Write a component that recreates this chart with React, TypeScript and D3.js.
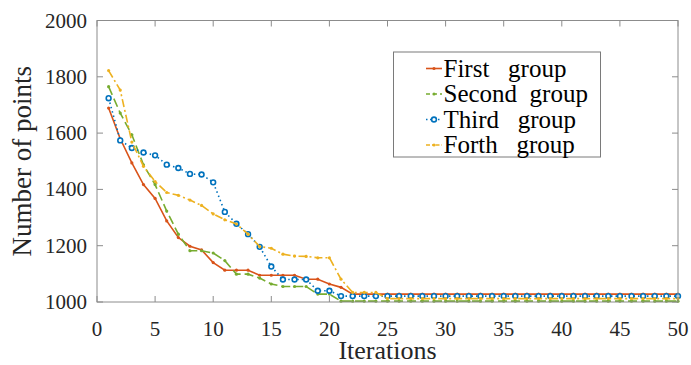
import React from "react";
import * as d3 from "d3";

const iterations = d3.range(1, 51);
const xTicks = [0, 5, 10, 15, 20, 25, 30, 35, 40, 45, 50];
const yTicks = [1000, 1200, 1400, 1600, 1800, 2000];

const firstGroup = [
  1689, 1580, 1494, 1417, 1368, 1288, 1229, 1198, 1185, 1140,
  1113, 1113, 1113, 1095, 1095, 1095, 1095, 1081, 1081, 1064,
  1052, 1028, 1028, 1028, 1028, 1028, 1028, 1028, 1028, 1028,
  1028, 1028, 1028, 1028, 1028, 1028, 1028, 1028, 1028, 1028,
  1028, 1028, 1028, 1028, 1028, 1028, 1028, 1028, 1028, 1028,
];
const secondGroup = [
  1765, 1671, 1594, 1487, 1417, 1323, 1241, 1182, 1182, 1174,
  1147, 1099, 1099, 1085, 1064, 1055, 1055, 1055, 1028, 1028,
  1003, 1003, 1003, 1003, 1003, 1003, 1003, 1003, 1003, 1003,
  1003, 1003, 1003, 1003, 1003, 1003, 1003, 1003, 1003, 1003,
  1003, 1003, 1003, 1003, 1003, 1003, 1003, 1003, 1003, 1003,
];
const thirdGroup = [
  1724, 1574, 1547, 1531, 1521, 1488, 1476, 1455, 1453, 1425,
  1320, 1278, 1241, 1196, 1126, 1080, 1080, 1080, 1040, 1040,
  1021, 1021, 1021, 1021, 1021, 1021, 1021, 1021, 1021, 1021,
  1021, 1021, 1021, 1021, 1021, 1021, 1021, 1021, 1021, 1021,
  1021, 1021, 1021, 1021, 1021, 1021, 1021, 1021, 1021, 1021,
];
const forthGroup = [
  1822, 1753, 1568, 1482, 1428, 1389, 1379, 1362, 1343, 1313,
  1292, 1277, 1241, 1197, 1191, 1170, 1163, 1162, 1157, 1157,
  1081, 1034, 1034, 1034, 1012, 1012, 1012, 1012, 1012, 1012,
  1012, 1012, 1012, 1012, 1012, 1012, 1012, 1012, 1012, 1012,
  1012, 1012, 1012, 1012, 1012, 1012, 1012, 1012, 1012, 1012,
];

const seriesNames = ["First   group", "Second  group", "Third   group", "Forth   group"];
const seriesValues = [firstGroup, secondGroup, thirdGroup, forthGroup];
const seriesColors = ["#D95319", "#77AC30", "#0072BD", "#EDB120"];
const seriesDash = ["none", "9,4", "1.5,3", "8,3,2,3"];
const legendDash = ["none", "4,3", "1.5,2.5", "4,2,1.5,2"];
const seriesMarker = ["dot", "dot", "circle", "dot"];

const W = 691;
const H = 365;
const L = 97, R = 678, T = 20.5, B = 302;
const FONT = '"Liberation Serif", "Times New Roman", Times, serif';

export default function App() {
  const x = d3.scaleLinear().domain([0, 50]).range([L, R]);
  const y = d3.scaleLinear().domain([1000, 2000]).range([B, T]);
  const line = d3
    .line<number>()
    .x((_, i) => x(iterations[i]))
    .y((d) => y(d));
  const tickLen = 6;
  const axisColor = "#8c8c8c";
  const textColor = "#262626";
  const ts = { fontFamily: FONT };

  const legX = 393.5, legY = 52, legW = 207, legH = 105;
  const rowH = 25.5;

  const marker = (kind: string, cx: number, cy: number, color: string, key: any) =>
    kind === "circle" ? (
      <circle key={key} cx={cx} cy={cy} r={2.4} fill="#ffffff" stroke={color} strokeWidth={1.6} />
    ) : (
      <circle key={key} cx={cx} cy={cy} r={1.6} fill={color} />
    );

  return (
    <svg
      width={W}
      height={H}
      style={{ position: "absolute", left: 0, top: 0, background: "#fff", fontFamily: FONT }}
    >
      <rect x={0} y={0} width={W} height={H} fill="#fff" />
      {xTicks.map((t) => (
        <g key={"xt" + t}>
          <line x1={x(t)} x2={x(t)} y1={B} y2={B - tickLen} stroke={axisColor} strokeWidth={1} />
          <line x1={x(t)} x2={x(t)} y1={T} y2={T + tickLen} stroke={axisColor} strokeWidth={1} />
          <text x={x(t)} y={336} textAnchor="middle" fontSize={21} fill={textColor} style={ts}>
            {t}
          </text>
        </g>
      ))}
      {yTicks.map((t) => (
        <g key={"yt" + t}>
          <line x1={L} x2={L + tickLen} y1={y(t)} y2={y(t)} stroke={axisColor} strokeWidth={1} />
          <line x1={R} x2={R - tickLen} y1={y(t)} y2={y(t)} stroke={axisColor} strokeWidth={1} />
          <text x={87} y={y(t) + 7} textAnchor="end" fontSize={21} fill={textColor} style={ts}>
            {t}
          </text>
        </g>
      ))}
      {seriesValues.map((vals, si) => (
        <g key={"s" + si}>
          <path
            d={line(vals) || ""}
            fill="none"
            stroke={seriesColors[si]}
            strokeWidth={1.6}
            strokeDasharray={seriesDash[si]}
          />
          {vals.map((v, i) => marker(seriesMarker[si], x(iterations[i]), y(v), seriesColors[si], i))}
        </g>
      ))}
      <rect x={L} y={T} width={R - L} height={B - T} fill="none" stroke={axisColor} strokeWidth={1} />
      <text x={(L + R) / 2} y={359} textAnchor="middle" fontSize={26} fill={textColor} style={ts}>
        Iterations
      </text>
      <text
        transform={`translate(31, ${(T + B) / 2}) rotate(-90)`}
        textAnchor="middle"
        fontSize={27}
        fill={textColor}
        style={ts}
      >
        Number of points
      </text>
      <rect x={legX} y={legY} width={legW} height={legH} fill="#fff" stroke="#7a7a7a" strokeWidth={1} />
      {seriesNames.map((name, si) => {
        const cy = legY + 16.5 + si * rowH;
        return (
          <g key={"l" + si}>
            <line
              x1={426}
              x2={442}
              y1={cy}
              y2={cy}
              stroke={seriesColors[si]}
              strokeWidth={1.6}
              strokeDasharray={legendDash[si]}
            />
            {marker(seriesMarker[si], 434, cy, seriesColors[si], "m")}
            <text x={443.5} y={cy + 8} fontSize={25} fill="#000" style={{ whiteSpace: "pre", fontFamily: FONT }}>
              {name}
            </text>
          </g>
        );
      })}
    </svg>
  );
}
